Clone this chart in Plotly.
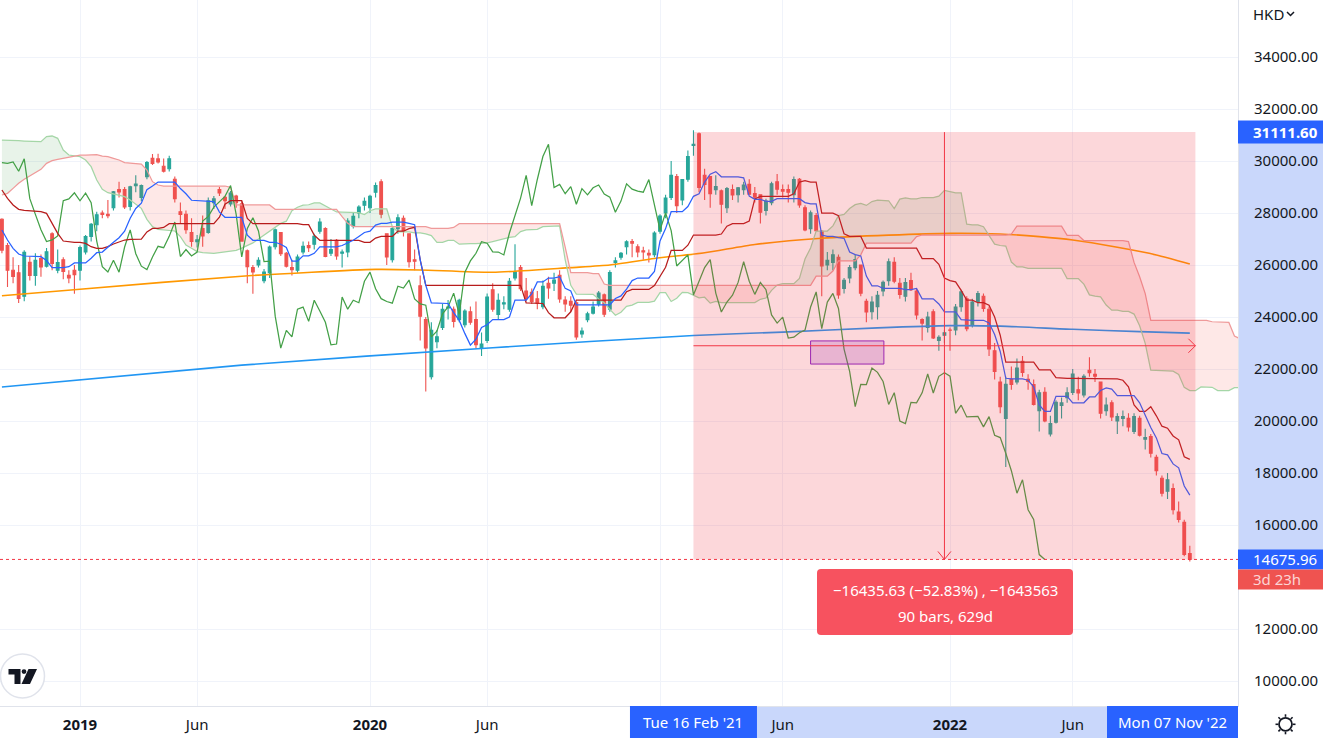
import numpy as np
import pandas as pd
import plotly.graph_objects as go

# ---------------- data (weekly Hang Seng Index, HKD) ----------------
FIRST_BAR = "2018-10-01"

opens = [
    27760, 26750, 25800, 25700, 24800, 26100, 25600, 26250, 25950, 27200,
    25800, 26200, 25600, 25800, 25800, 26500, 27100, 27550, 28000, 27950,
    28200, 28900, 28900, 28250, 29050, 28600, 29400, 30100, 30080, 29800,
    29700, 29300, 28050, 27950, 27250, 26900, 27400, 27250, 28400, 28900,
    28600, 28350, 28650, 28350, 26550, 25900, 26000, 25400, 25700, 26700,
    27250, 26450, 25900, 25800, 26500, 26750, 26800, 27300, 27400, 26450,
    26950, 26450, 26500, 27500, 28000, 28300, 28200, 28800, 29200, 27200,
    26200, 27400, 27800, 27200, 26200, 25200, 23900, 21700, 23050, 23600,
    24350, 24300, 23900, 23700, 24200, 23900, 22800, 23100, 25050, 24100,
    24500, 24300, 25500, 25900, 25000, 24950, 24700, 24400, 25300, 25300,
    25600, 24650, 24600, 24550, 23350, 23900, 24150, 24500, 24850, 24300,
    26100, 26300, 26700, 26900, 26700, 26550, 26450, 26400, 27300, 28000,
    28600, 29400, 28500, 29300, 30600, 31050, 29450, 29400, 28900, 28850,
    28200, 28900, 28700, 28900, 29100, 28750, 28700, 28100, 28400, 29200,
    28900, 28900, 28700, 29300, 28200, 27400, 27900, 27300, 26000, 26100,
    26300, 25100, 25500, 25900, 26000, 24600, 24200, 24400, 25000, 25400,
    26100, 25300, 24800, 25400, 25000, 23900, 23600, 24200, 23100, 23300,
    23500, 23500, 24400, 24700, 23700, 24600, 24800, 24300, 22700, 21500,
    20100, 21600, 21500, 22300, 21600, 21400, 20400, 21100, 19500, 19950,
    20600, 20900, 21100, 21200, 21000, 21950, 21800, 21500, 20400, 20700,
    20000, 20100, 20100, 19600, 20100, 19300, 19400, 18600, 17800, 17300,
    17400, 16500, 16100, 14900,
]
highs = [
    27800, 26850, 26300, 26000, 26570, 26330, 26450, 26400, 26650, 27260,
    26600, 26300, 25800, 26000, 26750, 27150, 27620, 28050, 28100, 28500,
    28850, 29200, 29000, 29050, 29450, 29100, 30000, 30270, 30280, 30100,
    30200, 29400, 28400, 28100, 27800, 27150, 27900, 28600, 28650, 29000,
    28650, 28850, 28700, 28450, 26600, 26000, 26300, 25850, 26750, 27400,
    27270, 26500, 26200, 26400, 26900, 26900, 27200, 27800, 27450, 27000,
    27000, 26600, 27800, 28000, 28300, 28600, 28700, 29175, 29300, 27200,
    27500, 27950, 27900, 27200, 26600, 25600, 24000, 23800, 23500, 24500,
    24650, 24400, 24700, 24300, 24400, 24600, 23400, 24900, 25300, 24900,
    24800, 25500, 26800, 26000, 25500, 25100, 25000, 25400, 25550, 25700,
    25800, 24800, 24800, 24600, 23600, 24200, 24600, 25000, 24900, 25800,
    26300, 26500, 26950, 27000, 26800, 26700, 26600, 27300, 27950, 28700,
    30000, 29500, 29300, 30400, 31183, 31100, 29700, 29400, 29450, 28900,
    29000, 29100, 29000, 29200, 29300, 29000, 28700, 28550, 29200, 29500,
    29100, 29100, 29400, 29350, 28300, 28100, 28000, 27350, 26500, 26600,
    26400, 25500, 26000, 26400, 26000, 24700, 24800, 25000, 25400, 26250,
    26300, 25500, 25500, 25700, 25100, 23950, 24200, 24300, 23300, 23500,
    23600, 24500, 25050, 24800, 24700, 25000, 24900, 24400, 23000, 21700,
    21700, 22100, 22400, 22500, 21800, 21600, 21200, 21300, 20200, 20800,
    20900, 21300, 22000, 21700, 21800, 22450, 22000, 21500, 20900, 20800,
    20300, 20400, 20300, 20300, 20200, 19700, 19500, 18700, 17900, 18000,
    17600, 16900, 16200, 15200,
]
lows = [
    26450, 25150, 25300, 24540, 24610, 25400, 25200, 25550, 25900, 25800,
    25680, 25450, 25300, 24896, 25400, 26400, 26900, 27300, 27800, 27800,
    28100, 28600, 28150, 28100, 28800, 28450, 29300, 29850, 29900, 29560,
    29600, 28400, 27600, 27200, 26700, 26670, 26700, 27200, 28150, 28650,
    28150, 28250, 28200, 26900, 25300, 24899, 25900, 25300, 25500, 26600,
    26350, 25900, 25600, 25700, 26400, 26500, 26600, 27200, 26300, 26350,
    26200, 25900, 26300, 27400, 27800, 28100, 28000, 28600, 27800, 26000,
    26100, 27200, 27100, 25900, 25800, 23100, 21139, 21600, 22800, 23500,
    23900, 23600, 23800, 23600, 23700, 22800, 22500, 23000, 24200, 23900,
    24300, 24200, 25400, 25000, 24600, 24500, 24300, 24300, 24700, 25000,
    24550, 24200, 24200, 23124, 23200, 23800, 24100, 24400, 24000, 24200,
    25900, 26200, 26400, 26300, 26300, 26200, 26100, 26300, 27200, 27800,
    28500, 28000, 28300, 29200, 30200, 28800, 28500, 28200, 28700, 27600,
    28000, 28500, 28400, 28700, 28700, 28400, 27600, 27900, 28300, 28700,
    28600, 28400, 28400, 28200, 27300, 27200, 27300, 24800, 25800, 25800,
    24700, 24900, 25300, 25800, 24800, 23800, 23900, 23900, 24800, 25200,
    25300, 24700, 24600, 25000, 23900, 23100, 23400, 23150, 22700, 23000,
    22700, 23300, 24200, 23450, 23600, 24400, 24200, 22500, 21600, 20300,
    18235, 21200, 21400, 21700, 21200, 20600, 19600, 19950, 19400, 19900,
    20100, 20700, 21000, 20800, 20900, 21700, 21500, 20100, 20200, 20000,
    19500, 19800, 19600, 19500, 19400, 18900, 18600, 17900, 17100, 17000,
    16400, 16100, 14800, 14597,
]
closes = [
    26573, 25801, 25561, 24717, 26486, 25601, 26183, 25927, 26506, 26063,
    26094, 25753, 25504, 25626, 26667, 27090, 27569, 27930, 27946, 27900,
    28816, 28812, 28228, 29012, 29113, 29051, 29936, 29909, 29963, 29605,
    30082, 28550, 27946, 27354, 26901, 26965, 27118, 28473, 28543, 28775,
    28471, 28765, 28398, 26919, 25939, 25734, 26179, 25725, 26691, 27353,
    26435, 25955, 25821, 26308, 26720, 26667, 27101, 27651, 26327, 26595,
    26346, 26498, 27687, 27871, 28225, 28451, 28638, 29056, 27950, 26313,
    27404, 27815, 27308, 26130, 26147, 24032, 22805, 23484, 23236, 24300,
    24380, 23831, 24644, 24230, 23797, 22930, 22961, 24770, 24301, 24644,
    24549, 25373, 25727, 25089, 24705, 24595, 24531, 25183, 25113, 25422,
    24695, 24503, 24455, 23235, 23459, 24119, 24386, 24918, 24107, 25712,
    26157, 26451, 26895, 26836, 26506, 26498, 26387, 27231, 27878, 28573,
    29447, 28284, 29289, 30173, 30644, 28980, 29098, 28740, 29014, 28336,
    28939, 28699, 28970, 29079, 28725, 28611, 28028, 28458, 29124, 28918,
    28842, 28801, 29288, 28310, 27344, 28004, 27321, 25961, 26179, 26391,
    24849, 25408, 25901, 26205, 24920, 24192, 24576, 24837, 25331, 26126,
    25377, 24870, 25327, 25049, 24080, 23766, 23995, 23192, 23223, 23397,
    23493, 24383, 24965, 23550, 24573, 24906, 24328, 22767, 21905, 20554,
    21412, 21404, 22039, 21872, 21518, 20638, 21089, 20001, 19898, 20717,
    20697, 21082, 21806, 21075, 21719, 21860, 21725, 20297, 20609, 20157,
    20175, 20175, 19773, 20170, 19452, 19362, 18762, 18089, 17223, 17740,
    16588, 16211, 14863, 14675.96,
]

tenkan_warmup = [27346, 26961, 26641, 26423, 26346, 26346, 26346, 26320]
kijun_warmup = [28884, 28564, 28308, 28141, 28102, 28090, 28077, 28051, 27987, 27602,
                27218, 26923, 26885, 26872, 26872, 26833, 26705, 26641, 26641, 26705,
                26808, 26900, 26961, 26990, 26995]
span_a_warmup = [30807, 30807, 30795, 30782, 30769, 30756, 30743, 30743, 30936, 30961,
                 30872, 30423, 30230, 30192, 30166, 30038, 29782, 29269, 28910, 28782,
                 28731, 28692, 28628, 28500, 28346, 28179, 27756, 27474, 27372, 27346,
                 27346, 27308, 27090, 26769, 26641, 26513, 26474, 26449, 26449, 26474,
                 26500, 26520, 26560, 26650, 26740, 26850, 27000, 27150, 27300, 27450,
                 27600]
span_b_warmup = [28692, 28756, 28948, 29141, 29295, 29423, 29551, 29679, 29910, 30013,
                 30064, 30102, 30141, 30192, 30230, 30230, 30243, 30243, 30192, 30166,
                 30102, 30038, 29936, 29910, 29910, 29884, 29654, 29205, 29077, 29038,
                 29038, 29038, 29038, 29038, 29038, 29038, 29038, 29038, 29038, 29038,
                 29038, 28987, 28308, 28308, 28308, 28308, 28308, 28308, 28308, 28141,
                 28141, 28141, 28141, 28141, 28141, 28141, 28141, 28141, 28141, 28141,
                 28141, 27859, 27603, 27475, 27475, 27475, 27475, 27475, 27475, 27475,
                 27475, 27475, 27475, 27475, 27475, 27475, 27475]

# long moving averages
ma_orange_dates = ["2018-10-01", "2019-01-07", "2019-07-29", "2020-01-13", "2020-03-09",
                   "2020-06-08", "2020-09-14", "2020-11-02", "2020-12-28", "2021-03-01",
                   "2021-05-03", "2021-07-26", "2021-10-18", "2022-01-03", "2022-03-07",
                   "2022-04-25", "2022-06-06", "2022-08-01", "2022-09-19", "2022-10-31"]
ma_orange_values = [24820, 25070, 25570, 25830, 25810, 25720, 25900, 26000, 26250, 26470,
                    26790, 27030, 27150, 27218, 27193, 27090, 26960, 26680, 26385, 26040]
ma_blue_dates = ["2018-10-01", "2019-07-29", "2020-06-08", "2021-02-15", "2021-06-07",
                 "2021-10-04", "2022-01-03", "2022-03-07", "2022-06-06", "2022-08-29",
                 "2022-10-31"]
ma_blue_values = [21310, 22150, 22820, 23290, 23420, 23580, 23667, 23650, 23526, 23436, 23380]

# drawings
sel_dates = ["2021-02-15", "2022-11-07"]
sel_prices = [31111.60, 14675.96]
box_dates = ["2021-07-12", "2021-10-12"]
box_prices = [23080, 22190]

price_ticks = [10000, 12000, 16000, 18000, 20000, 22000, 24000, 26000, 28000, 30000, 32000, 34000]
time_tick_dates = ["2019-01-07", "2019-06-03", "2020-01-06", "2020-06-01", "2021-01-04",
                   "2021-06-07", "2022-01-03", "2022-06-06"]
time_tick_text = ["<b>2019</b>", "Jun", "<b>2020</b>", "Jun", "", "Jun", "<b>2022</b>", "Jun"]

# ---------------- indicators ----------------
n = len(closes)
assert len(opens) == len(highs) == len(lows) == n
all_dates = pd.date_range(FIRST_BAR, periods=n + 26, freq="7D")
bar_dates = all_dates[:n]
H = np.array(highs, dtype=float)
L = np.array(lows, dtype=float)


def midrange(i, length):
    return (H[i - length + 1:i + 1].max() + L[i - length + 1:i + 1].min()) / 2


tenkan = [tenkan_warmup[i] if i < 8 else midrange(i, 9) for i in range(n)]
kijun = [kijun_warmup[i] if i < 25 else midrange(i, 26) for i in range(n)]
span_a = [span_a_warmup[p] if p < 51 else (tenkan[p - 26] + kijun[p - 26]) / 2 for p in range(n + 26)]
span_b = [span_b_warmup[p] if p < 77 else midrange(p - 26, 52) for p in range(n + 26)]
lag_dates = all_dates[:n - 26]
lag_vals = closes[26:]

# ---------------- geometry helpers ----------------
PLOT_W, PLOT_H = 1238, 706
PX_PER_DAY = 5.577 / 7
Y_TOP, Y_BOT = 36192.3, 9038.5
VAL_PER_PX = (Y_TOP - Y_BOT) / PLOT_H
ref_day = pd.Timestamp("2019-01-07")
x_left = ref_day - pd.Timedelta(days=80 / PX_PER_DAY)
x_right = ref_day + pd.Timedelta(days=(PLOT_W - 80) / PX_PER_DAY)


def dpx(px_):
    return pd.Timedelta(days=px_ / PX_PER_DAY)


def px(x):
    return x / PLOT_W


def py(y):
    return 1 - y / PLOT_H


FONT = "Noto Sans"
TXT = "#131722"
RED = "#F23645"
BLUE = "#2962FF"
BAND = "#C9D7FB"

fig = go.Figure()

# ---------------- cloud ----------------
xnum = all_dates.values.astype("datetime64[ns]").astype(np.int64).astype(float)
A = np.array(span_a, dtype=float)
B = np.array(span_b, dtype=float)
segments = []
cx, ca, cb = [xnum[0]], [A[0]], [B[0]]
sign = A[0] >= B[0]
for p in range(1, len(A)):
    s = A[p] >= B[p]
    if s != sign:
        d0, d1 = A[p - 1] - B[p - 1], A[p] - B[p]
        t = d0 / (d0 - d1)
        xc = xnum[p - 1] + t * (xnum[p] - xnum[p - 1])
        yc = A[p - 1] + t * (A[p] - A[p - 1])
        cx.append(xc); ca.append(yc); cb.append(yc)
        segments.append((sign, cx, ca, cb))
        cx, ca, cb = [xc], [yc], [yc]
        sign = s
    cx.append(xnum[p]); ca.append(A[p]); cb.append(B[p])
segments.append((sign, cx, ca, cb))
for sgn, xs, as_, bs in segments:
    xd = pd.to_datetime(np.array(xs + xs[::-1]).astype(np.int64))
    fig.add_trace(go.Scatter(
        x=xd, y=as_ + bs[::-1], mode="lines", fill="toself", line=dict(width=0),
        fillcolor="rgba(67,160,71,0.12)" if sgn else "rgba(244,67,54,0.12)",
        hoverinfo="skip"))

# ---------------- candles ----------------
fig.add_trace(go.Candlestick(
    x=bar_dates, open=opens, high=highs, low=lows, close=closes,
    increasing=dict(line=dict(color="#26A69A", width=1.1), fillcolor="#26A69A"),
    decreasing=dict(line=dict(color="#EF5350", width=1.1), fillcolor="#EF5350"),
    hoverinfo="skip"))

# ---------------- lines ----------------
fig.add_trace(go.Scatter(x=pd.to_datetime(ma_orange_dates), y=ma_orange_values, mode="lines",
                         line=dict(color="#FF9800", width=1.6, shape="spline", smoothing=0.6)))
fig.add_trace(go.Scatter(x=pd.to_datetime(ma_blue_dates), y=ma_blue_values, mode="lines",
                         line=dict(color="#2196F3", width=1.6, shape="spline", smoothing=0.6)))
fig.add_trace(go.Scatter(x=all_dates, y=span_a, mode="lines", line=dict(color="#A5D6A7", width=1.25)))
fig.add_trace(go.Scatter(x=all_dates, y=span_b, mode="lines", line=dict(color="#EF9A9A", width=1.25)))
fig.add_trace(go.Scatter(x=lag_dates, y=lag_vals, mode="lines", line=dict(color="#43A047", width=1.25)))
fig.add_trace(go.Scatter(x=bar_dates, y=kijun, mode="lines", line=dict(color="#B71C1C", width=1.25)))
fig.add_trace(go.Scatter(x=bar_dates, y=tenkan, mode="lines", line=dict(color="#2962FF", width=1.25)))

# ---------------- drawings ----------------
s0, s1 = pd.Timestamp(sel_dates[0]), pd.Timestamp(sel_dates[1])
p_hi, p_lo = sel_prices
mid_date = s0 + (s1 - s0) / 2
mid_price = (p_hi + p_lo) / 2
shapes = []
shapes.append(dict(type="rect", xref="x", yref="y", x0=s0, x1=s1, y0=p_lo, y1=p_hi,
                   fillcolor="rgba(242,54,69,0.2)", line=dict(width=0), layer="above"))
shapes.append(dict(type="rect", xref="x", yref="y", x0=box_dates[0], x1=box_dates[1],
                   y0=box_prices[1], y1=box_prices[0], fillcolor="rgba(156,39,176,0.2)",
                   line=dict(color="#9C27B0", width=1), layer="above"))
ln = dict(color=RED, width=1)
shapes.append(dict(type="line", xref="x", yref="y", x0=s0, x1=s1, y0=mid_price, y1=mid_price,
                   line=ln, layer="above"))
shapes.append(dict(type="line", xref="x", yref="y", x0=mid_date, x1=mid_date, y0=p_hi, y1=p_lo,
                   line=ln, layer="above"))
for sgn in (1, -1):
    shapes.append(dict(type="line", xref="x", yref="y", x0=s1 - dpx(7), x1=s1,
                       y0=mid_price + sgn * 7 * VAL_PER_PX, y1=mid_price, line=ln, layer="above"))
    shapes.append(dict(type="line", xref="x", yref="y", x0=mid_date + sgn * dpx(6.5), x1=mid_date,
                       y0=p_lo + 8 * VAL_PER_PX, y1=p_lo, line=ln, layer="above"))
# last price dotted line
shapes.append(dict(type="line", xref="paper", yref="y", x0=0, x1=1, y0=closes[-1], y1=closes[-1],
                   line=dict(color=RED, width=1, dash="dot"), layer="above"))
# price axis band + labels
AX_R = 1323 / PLOT_W
shapes.append(dict(type="rect", xref="paper", yref="y", x0=1, x1=AX_R, y0=p_lo, y1=p_hi,
                   fillcolor=BAND, line=dict(width=0), layer="below"))
shapes.append(dict(type="rect", xref="paper", yref="y", x0=1, x1=AX_R,
                   y0=p_hi - 11.5 * VAL_PER_PX, y1=p_hi + 11.5 * VAL_PER_PX,
                   fillcolor=BLUE, line=dict(width=0), layer="above"))
shapes.append(dict(type="rect", xref="paper", yref="y", x0=1, x1=AX_R,
                   y0=p_lo - 10 * VAL_PER_PX, y1=p_lo + 10 * VAL_PER_PX,
                   fillcolor=BLUE, line=dict(width=0), layer="above"))
shapes.append(dict(type="rect", xref="paper", yref="y", x0=1, x1=AX_R,
                   y0=p_lo - 30 * VAL_PER_PX, y1=p_lo - 10 * VAL_PER_PX,
                   fillcolor="#EF5350", line=dict(width=0), layer="above"))
# time axis band + boxes
TB0, TB1 = py(706), py(738)
shapes.append(dict(type="rect", xref="x", yref="paper", x0=s0, x1=s1, y0=TB1, y1=TB0,
                   fillcolor=BAND, line=dict(width=0), layer="below"))
shapes.append(dict(type="rect", xref="x", yref="paper", x0=s0 - dpx(63.5), x1=s0 + dpx(63.5),
                   y0=TB1, y1=TB0, fillcolor=BLUE, line=dict(width=0), layer="above"))
shapes.append(dict(type="rect", xref="paper", yref="paper", x0=px(1107), x1=1,
                   y0=TB1, y1=TB0, fillcolor=BLUE, line=dict(width=0), layer="above"))


def rrect(x0, y0, x1, y1, r):
    pts = [f"M {px(x0 + r)},{py(y0)}", f"L {px(x1 - r)},{py(y0)}",
           f"Q {px(x1)},{py(y0)} {px(x1)},{py(y0 + r)}", f"L {px(x1)},{py(y1 - r)}",
           f"Q {px(x1)},{py(y1)} {px(x1 - r)},{py(y1)}", f"L {px(x0 + r)},{py(y1)}",
           f"Q {px(x0)},{py(y1)} {px(x0)},{py(y1 - r)}", f"L {px(x0)},{py(y0 + r)}",
           f"Q {px(x0)},{py(y0)} {px(x0 + r)},{py(y0)}", "Z"]
    return " ".join(pts)


shapes.append(dict(type="path", xref="paper", yref="paper", path=rrect(817, 569, 1073, 635, 4),
                   fillcolor="#F7525F", line=dict(width=0), layer="above"))

# TradingView logo
shapes.append(dict(type="circle", xref="paper", yref="paper", x0=px(0.5), x1=px(44.5),
                   y0=py(698), y1=py(654), fillcolor="white", line=dict(color="#E0E3EB", width=1.5),
                   layer="above"))


def poly(points):
    return "M " + " L ".join(f"{px(a)},{py(b)}" for a, b in points) + " Z"


shapes.append(dict(type="path", xref="paper", yref="paper",
                   path=poly([(8.5, 669), (20.5, 669), (20.5, 684), (14.5, 684), (14.5, 674.5), (8.5, 674.5)]),
                   fillcolor=TXT, line=dict(width=0), layer="above"))
shapes.append(dict(type="circle", xref="paper", yref="paper", x0=px(21.6), x1=px(26.4),
                   y0=py(674), y1=py(669.2), fillcolor=TXT, line=dict(width=0), layer="above"))
shapes.append(dict(type="path", xref="paper", yref="paper",
                   path=poly([(28.5, 669), (37, 669), (30, 684), (21.5, 684)]),
                   fillcolor=TXT, line=dict(width=0), layer="above"))
# HKD chevron
shapes.append(dict(type="path", xref="paper", yref="paper",
                   path=f"M {px(1287)},{py(12)} L {px(1290.5)},{py(15.5)} L {px(1294)},{py(12)}",
                   line=dict(color=TXT, width=1.5), layer="above"))
# settings icon (circle with small teeth)
GX, GY = 1285.5, 724.3
shapes.append(dict(type="circle", xref="paper", yref="paper", x0=px(GX - 6.5), x1=px(GX + 6.5),
                   y0=py(GY + 6.5), y1=py(GY - 6.5), fillcolor="white",
                   line=dict(color=TXT, width=1.8), layer="above"))
for k in range(8):
    ang = k * np.pi / 4
    shapes.append(dict(type="line", xref="paper", yref="paper",
                       x0=px(GX + 7.5 * np.cos(ang)), x1=px(GX + 10 * np.cos(ang)),
                       y0=py(GY + 7.5 * np.sin(ang)), y1=py(GY + 10 * np.sin(ang)),
                       line=dict(color=TXT, width=1.6), layer="above"))

ann = []
LBL_X = px(1251)
ann.append(dict(xref="paper", yref="y", x=LBL_X, y=p_hi, text="<b>31111.60</b>", showarrow=False,
                xanchor="left", yanchor="middle", font=dict(family=FONT, size=15, color="white")))
ann.append(dict(xref="paper", yref="y", x=LBL_X, y=p_lo, text=f"{p_lo:.2f}", showarrow=False,
                xanchor="left", yanchor="middle", font=dict(family=FONT, size=15, color="white")))
ann.append(dict(xref="paper", yref="y", x=LBL_X, y=p_lo - 20 * VAL_PER_PX, text="3d 23h", showarrow=False,
                xanchor="left", yanchor="middle", font=dict(family=FONT, size=15, color="#FBD5D5")))
ann.append(dict(xref="x", yref="paper", x=s0, y=py(722), text="Tue 16 Feb '21", showarrow=False,
                xanchor="center", yanchor="middle", font=dict(family=FONT, size=15, color="white")))
ann.append(dict(xref="paper", yref="paper", x=px(1172.5), y=py(722), text="Mon 07 Nov '22", showarrow=False,
                xanchor="center", yanchor="middle", font=dict(family=FONT, size=15, color="white")))
ann.append(dict(xref="paper", yref="paper", x=px(945), y=py(590),
                text="\u221216435.63 (\u221252.83%) , \u22121643563", showarrow=False,
                xanchor="center", yanchor="middle", font=dict(family=FONT, size=15, color="white")))
ann.append(dict(xref="paper", yref="paper", x=px(945), y=py(616), text="90 bars, 629d", showarrow=False,
                xanchor="center", yanchor="middle", font=dict(family=FONT, size=15, color="white")))
ann.append(dict(xref="paper", yref="paper", x=LBL_X, y=py(14), text="HKD", showarrow=False,
                xanchor="left", yanchor="middle", font=dict(family=FONT, size=15, color=TXT)))

fig.update_layout(
    width=1323, height=738, autosize=False,
    margin=dict(l=0, r=85, t=0, b=32, pad=0),
    paper_bgcolor="white", plot_bgcolor="white",
    showlegend=False, hovermode=False,
    font=dict(family=FONT, size=15, color=TXT),
    shapes=shapes, annotations=ann,
    xaxis=dict(type="date", range=[x_left, x_right], rangeslider=dict(visible=False),
               tickvals=pd.to_datetime(time_tick_dates), ticktext=time_tick_text,
               showgrid=True, gridcolor="#F0F3FA", gridwidth=1, zeroline=False,
               showline=True, linecolor="#E0E3EB", linewidth=1, ticks="",
               ticklabelstandoff=5, tickfont=dict(family=FONT, size=15, color=TXT), fixedrange=True),
    yaxis=dict(side="right", range=[Y_BOT, Y_TOP], tickvals=price_ticks,
               ticktext=[f"{v:.2f}" for v in price_ticks],
               showgrid=True, gridcolor="#F0F3FA", gridwidth=1, zeroline=False,
               showline=True, linecolor="#E0E3EB", linewidth=1, ticks="",
               ticklabelstandoff=12, tickfont=dict(family=FONT, size=15, color=TXT), fixedrange=True),
)

fig.write_html("out.html", include_plotlyjs=True, config={"displayModeBar": False},
               post_script="document.body.style.margin='0px';document.body.style.overflow='hidden';")
